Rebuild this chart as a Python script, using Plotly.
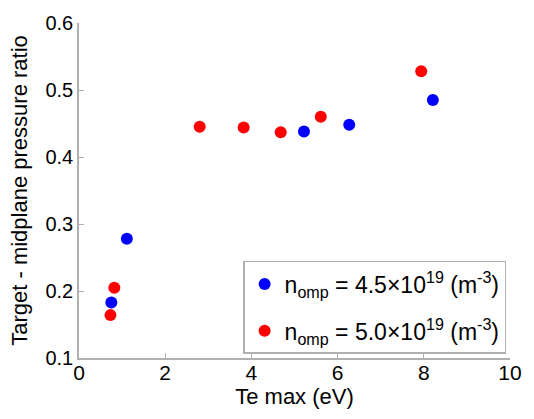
import plotly.graph_objects as go

# Series data
te_45 = [0.75, 1.11, 5.22, 6.27, 8.21]
ratio_45 = [0.183, 0.278, 0.438, 0.448, 0.485]
te_50 = [0.73, 0.82, 2.80, 3.82, 4.68, 5.61, 7.94]
ratio_50 = [0.164, 0.205, 0.445, 0.444, 0.437, 0.460, 0.528]

label_45 = "n<sub>omp</sub> = 4.5×10<sup>19</sup> (m<sup>-3</sup>)"
label_50 = "n<sub>omp</sub> = 5.0×10<sup>19</sup> (m<sup>-3</sup>)"

x_ticks = [0, 2, 4, 6, 8, 10]
y_ticks = [0.1, 0.2, 0.3, 0.4, 0.5, 0.6]

FONT = "Arial, Liberation Sans, sans-serif"

fig = go.Figure()
fig.add_trace(go.Scatter(x=te_45, y=ratio_45, mode="markers", name=label_45,
                         legendgroup="a",
                         marker=dict(color="#0000ff", size=12)))
fig.add_trace(go.Scatter(x=te_50, y=ratio_50, mode="markers", name=label_50,
                         legendgroup="b",
                         marker=dict(color="#ff0000", size=12)))

axis_common = dict(showline=True, linecolor="#b0b0b0", linewidth=1.5,
                   ticks="inside", ticklen=5, tickcolor="#b0b0b0",
                   showgrid=False, zeroline=False, mirror=False)

fig.update_layout(
    width=534, height=419,
    margin=dict(l=79, r=16, t=19, b=61),
    paper_bgcolor="white", plot_bgcolor="white",
    font=dict(family=FONT, size=20, color="black"),
    xaxis=dict(range=[0, 10], tickvals=x_ticks, ticktext=[str(v) for v in x_ticks],
               title=dict(text="Te max (eV)", font=dict(size=22), standoff=0),
               tickfont=dict(family=FONT, size=21, color="black"),
               ticklabelstandoff=-5, **axis_common),
    yaxis=dict(range=[0.1, 0.6], tickvals=y_ticks, ticktext=[f"{v:.1f}" for v in y_ticks],
               title=dict(text="Target - midplane pressure ratio", font=dict(size=22), standoff=12),
               tickfont=dict(family=FONT, size=20, color="black"),
               ticklabelstandoff=0, **axis_common),
    legend=dict(x=0.991, y=0.012, xanchor="right", yanchor="bottom",
                bordercolor="#b0b0b0", borderwidth=1.5, bgcolor="white",
                font=dict(family=FONT, size=23, color="black"),
                tracegroupgap=14, itemwidth=30),
    showlegend=True,
)

fig.write_html("out.html", config={"displayModeBar": False},
               post_script="document.body.style.margin='0';")
